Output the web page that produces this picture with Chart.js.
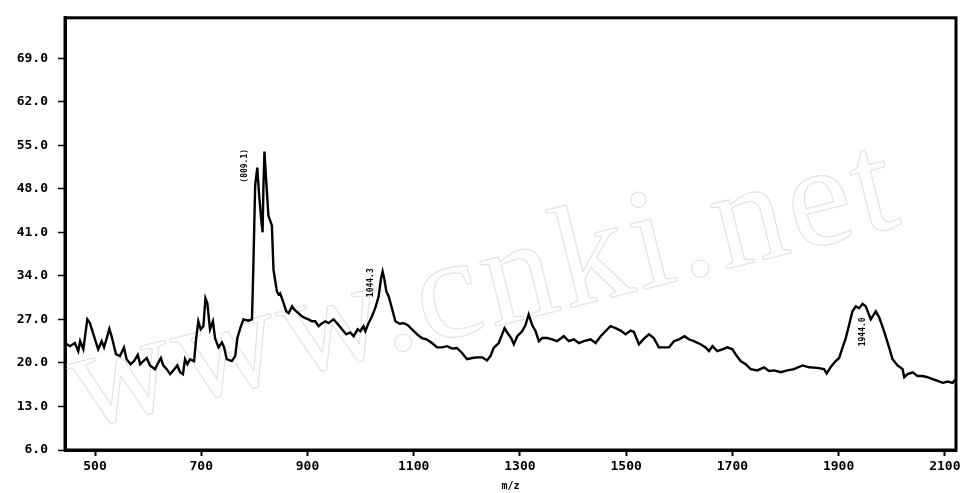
<!DOCTYPE html>
<html>
<head>
<meta charset="utf-8">
<script src="https://cdn.jsdelivr.net/npm/chart.js@4"></script>
<style>
html,body{margin:0;padding:0;background:#fff;}
canvas{display:block;}
</style>
</head>
<body>
<canvas id="c" width="964" height="493"></canvas>
<script>
// m/z positions of the spectrum trace
const mz = [443.5,453,462,468.5,472,478,485.5,490.5,497,506,512.5,517,520.5,527,531.5,539.5,547,554.5,559.5,567,573.5,580.5,585,591,597.5,603.5,613,619.5,624,628.5,635,641.5,647.5,655,660,665.5,669.5,674,679,686.5,690.5,694.5,699,704,708,711.5,716.5,722,726,732.5,739,743,748,757.5,764,768,773.5,779.5,789,795.5,798,801.5,805.5,809,813,815.5,817,819,822.5,826.5,833,836,839.5,842.5,845.5,848.5,854,860,864.5,871,875,883,889.5,896,902,908.5,914.5,921,927.5,933.5,939.5,949,955.5,965,973,980.5,987,994.5,999.5,1005.5,1009,1015,1021.5,1027.5,1034,1038.5,1041.5,1044.5,1048.5,1053,1059,1065.5,1073.5,1081,1088.5,1097,1106.5,1115.5,1124,1134.5,1144,1153.5,1163,1172.5,1181.5,1191,1200.5,1210,1219.5,1229,1238,1244.5,1250.5,1260,1266.5,1271,1276,1283.5,1288.5,1295,1304,1310.5,1316.5,1323,1329.5,1335.5,1342,1351.5,1360.5,1370,1382.5,1392,1401.5,1411,1420.5,1433,1442.5,1452,1461,1470.5,1480,1489.5,1499,1508.5,1514.5,1524,1533.5,1543,1552,1561.5,1571,1580.5,1590,1599.5,1610,1618,1627.5,1640,1649.5,1656,1662.5,1671.5,1681,1690.5,1700,1706,1715.5,1725,1734.5,1747,1759.5,1769,1778.5,1791,1803.5,1816,1832,1844.5,1860,1872.5,1877.5,1885.5,1894.5,1901,1907.5,1913.5,1920,1926,1932.5,1938.5,1945,1951,1957,1960.5,1970,1976.5,1985.5,1995,2001.5,2011,2020.5,2023.5,2030,2039.5,2048.5,2058,2067.5,2077,2086.5,2096,2105.5,2114.5,2121];
// intensity values of the trace
const intensity = [23.2,22.7,23.2,21.9,23.5,22.2,27.0,26.4,24.6,22.2,23.5,22.5,23.5,25.5,24.2,21.4,21.1,22.5,20.6,19.8,20.3,21.3,19.8,20.3,20.8,19.6,19.0,20.1,20.8,19.6,19.0,18.2,18.8,19.6,18.5,18.2,20.6,19.8,20.6,20.3,24.0,26.7,25.4,25.9,30.4,29.6,25.4,26.7,24.0,22.5,23.3,22.5,20.6,20.3,21.1,24.0,25.6,27.0,26.8,27.0,35.0,48.5,51.4,47.0,43.0,41.0,48.0,54.0,49.0,43.7,42.1,35.0,33.1,31.5,31.0,31.2,29.9,28.3,28.0,29.1,28.6,28.0,27.5,27.2,27.0,26.7,26.7,25.9,26.4,26.7,26.4,27.0,26.4,25.4,24.6,24.9,24.3,25.4,25.1,25.9,25.1,26.4,27.5,28.8,30.7,33.6,34.7,33.6,31.5,30.7,28.8,26.7,26.3,26.4,26.1,25.4,24.6,24.0,23.8,23.2,22.5,22.5,22.7,22.3,22.4,21.6,20.6,20.8,20.9,20.9,20.4,21.1,22.4,23.2,24.6,25.6,24.9,24.0,23.0,24.3,25.1,26.1,27.8,26.1,25.1,23.5,24.0,24.0,23.8,23.5,24.3,23.5,23.8,23.2,23.5,23.8,23.2,24.3,25.1,25.9,25.6,25.2,24.6,25.2,25.0,23.0,23.9,24.6,24.0,22.5,22.5,22.5,23.5,23.8,24.3,23.8,23.5,23.0,22.5,21.9,22.7,21.9,22.2,22.5,22.2,21.4,20.3,19.8,19.0,18.8,19.3,18.7,18.8,18.5,18.8,19.0,19.6,19.3,19.2,19.0,18.3,19.4,20.3,20.8,22.5,24.0,26.2,28.3,29.1,28.8,29.5,29.1,27.8,27.0,28.3,27.3,25.1,22.5,20.6,19.6,19.0,17.7,18.2,18.5,17.9,17.9,17.7,17.4,17.1,16.8,17.0,16.8,17.4];
// axis ticks
const xTicks = [500,700,900,1100,1300,1500,1700,1900,2100];
const yTicks = [6,13,20,27,34,41,48,55,62,69];
// peak annotations (text and anchor in data units)
const peakText = ['(809.1)','1044.3','1944.0'];
const peakMz = [782.7,1020,1945.5];
const peakVal = [51.7,32.9,25.0];
const watermark = 'www.cnki.net';

const MONO = '"DejaVu Sans Mono", monospace';

const framePlugin = {
  id:'frame',
  beforeDatasetsDraw(chart){
    const c = chart.ctx;
    c.save();
    c.translate(80, 430);
    c.rotate(-14*Math.PI/180);
    c.font = '145px "Liberation Serif", serif';
    if ('letterSpacing' in c) c.letterSpacing = '4px';
    c.strokeStyle = '#e2e2e2';
    c.lineWidth = 1.1;
    c.strokeText(watermark, 0, 0);
    c.restore();
  },
  afterDraw(chart){
    const {ctx:c, chartArea:a, scales} = chart;
    c.save();
    c.strokeStyle = '#000';
    c.lineWidth = 3;
    c.strokeRect(a.left, a.top, a.right - a.left, a.bottom - a.top);
    c.fillStyle = '#000';
    c.font = 'bold 8px ' + MONO;
    c.textAlign = 'center';
    c.textBaseline = 'middle';
    peakText.forEach((t,i)=>{
      const px = scales.x.getPixelForValue(peakMz[i]);
      const py = scales.y.getPixelForValue(peakVal[i]);
      c.save();
      c.translate(px, py);
      c.rotate(-Math.PI/2);
      c.fillText(t, 0, 0);
      c.restore();
    });
    c.restore();
  }
};

new Chart(document.getElementById('c').getContext('2d'), {
  type:'line',
  data:{
    datasets:[{
      data: mz.map((m,i)=>({x:m, y:intensity[i]})),
      borderColor:'#000',
      borderWidth:2.4,
      pointRadius:0,
      tension:0,
      fill:false
    }]
  },
  options:{
    responsive:false,
    animation:false,
    devicePixelRatio:1,
    layout:{padding:{top:13,right:8,left:0,bottom:0}},
    plugins:{legend:{display:false}, tooltip:{enabled:false}},
    scales:{
      x:{
        type:'linear', min:443.5, max:2121,
        afterBuildTicks:s=>{ s.ticks = xTicks.map(v=>({value:v})); },
        afterFit:s=>{ s.height = 43; },
        grid:{drawOnChartArea:false, drawTicks:true, tickLength:6, tickWidth:2, tickColor:'#000'},
        border:{display:true, color:'#000', width:3},
        ticks:{color:'#000', font:{family:MONO, size:13, weight:'bold'}, padding:3, maxRotation:0, autoSkip:false, callback:v=>String(v)},
        title:{display:true, text:'m/z', color:'#000', font:{family:MONO, size:10, weight:'bold'}, padding:{top:0,bottom:1}}
      },
      y:{
        type:'linear', min:6, max:75.5,
        afterBuildTicks:s=>{ s.ticks = yTicks.map(v=>({value:v})); },
        afterFit:s=>{ s.width = 65; },
        grid:{drawOnChartArea:false, drawTicks:true, tickLength:7, tickWidth:1.5, tickColor:'#000'},
        border:{display:true, color:'#000', width:3},
        ticks:{color:'#000', font:{family:MONO, size:13, weight:'bold'}, padding:10, autoSkip:false, callback:v=>Number(v).toFixed(1)}
      }
    }
  },
  plugins:[framePlugin]
});
</script>
</body>
</html>
